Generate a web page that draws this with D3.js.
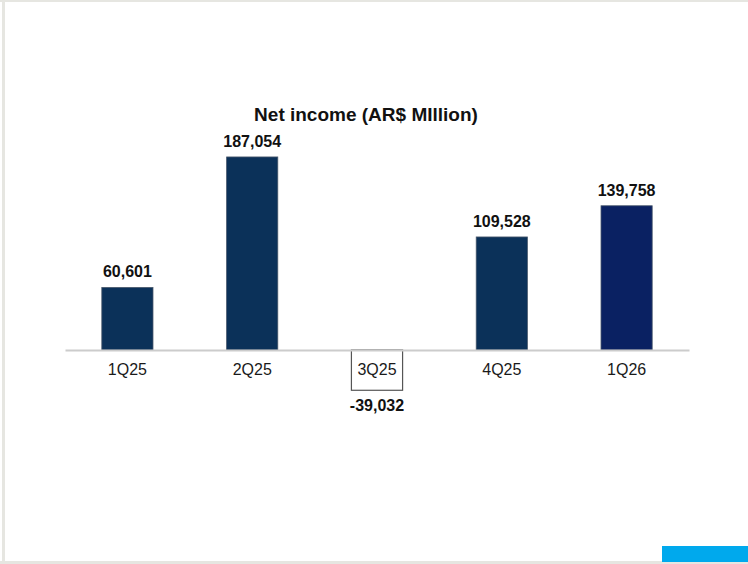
<!DOCTYPE html>
<html>
<head>
<meta charset="utf-8">
<script src="https://cdn.jsdelivr.net/npm/d3@7/dist/d3.min.js"></script>
<style>
  html, body { margin: 0; padding: 0; background: #ffffff; }
  svg { display: block; font-family: "Liberation Sans", Arial, Helvetica, sans-serif; }
</style>
</head>
<body>
<svg id="chart" width="748" height="564"></svg>
<script>
// Quarterly net income, AR$ million
const quarters = ["1Q25", "2Q25", "3Q25", "4Q25", "1Q26"];
const netIncome = [60601, 187054, -39032, 109528, 139758];
const valueLabels = ["60,601", "187,054", "-39,032", "109,528", "139,758"];
const barColors = ["#0b3159", "#0b3159", "#ffffff", "#0b3159", "#0a2162"];
const chartTitle = "Net income (AR$ MIllion)";

const svg = d3.select("#chart");
const W = 748, H = 564;

// Slide frame
svg.append("rect").attr("x", 0).attr("y", 0).attr("width", W).attr("height", 2).attr("fill", "#e6e6e1");
svg.append("rect").attr("x", 2).attr("y", 0).attr("width", 3).attr("height", H).attr("fill", "#e6e6e1");
svg.append("rect").attr("x", 0).attr("y", 561).attr("width", W).attr("height", 3).attr("fill", "#e6e6e1");
svg.append("rect").attr("x", 662).attr("y", 546).attr("width", 86).attr("height", 16).attr("fill", "#00a9ed");

// Scales
const x = d3.scaleBand()
  .domain(quarters)
  .range([65, 689])
  .paddingInner(0.59)
  .paddingOuter(0.295);

const y = d3.scaleLinear()
  .domain([-50000, 200000])
  .range([401.6, 143.6]);

const data = quarters.map((q, i) => ({ q, v: netIncome[i], label: valueLabels[i], color: barColors[i] }));

// Title
svg.append("text")
  .attr("x", 366)
  .attr("y", 121)
  .attr("text-anchor", "middle")
  .attr("font-size", 19)
  .attr("font-weight", "bold")
  .attr("fill", "#111111")
  .text(chartTitle);

// Category axis along the zero line
const axis = svg.append("g")
  .attr("transform", `translate(0,${y(0)})`)
  .call(d3.axisBottom(x).tickSize(0).tickPadding(0));
axis.select(".domain").attr("stroke", "#cccccc").attr("stroke-width", 2);
axis.selectAll(".tick text")
  .attr("y", 25)
  .attr("dy", 0)
  .attr("font-size", 16)
  .attr("font-family", "Liberation Sans, Arial, sans-serif")
  .attr("fill", "#1a1a1a");

// Bars
svg.append("g").selectAll("rect")
  .data(data)
  .join("rect")
  .attr("x", d => x(d.q))
  .attr("width", x.bandwidth())
  .attr("y", d => y(Math.max(0, d.v)))
  .attr("height", d => Math.abs(y(d.v) - y(0)))
  .attr("fill", d => d.color)
  .attr("stroke", d => d.v < 0 ? "#555555" : "#46566a")
  .attr("stroke-width", d => d.v < 0 ? 1.2 : 0.8);

// Keep category labels above the bars
axis.raise();

// Value labels
svg.append("g").selectAll("text")
  .data(data)
  .join("text")
  .attr("x", d => x(d.q) + x.bandwidth() / 2)
  .attr("y", d => d.v >= 0 ? y(d.v) - 10 : y(d.v) + 21)
  .attr("text-anchor", "middle")
  .attr("font-size", 16)
  .attr("font-weight", "bold")
  .attr("fill", "#111111")
  .text(d => d.label);
</script>
</body>
</html>
